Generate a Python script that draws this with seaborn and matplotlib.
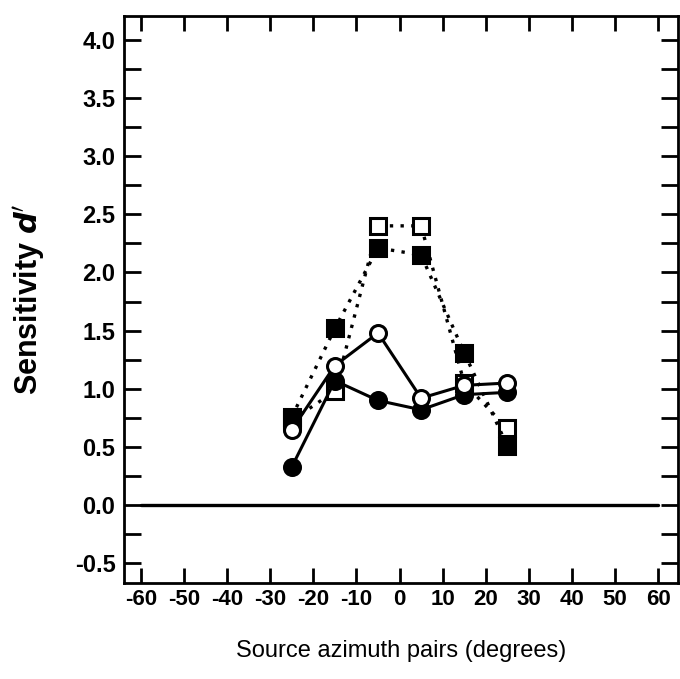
import numpy as np
import pandas as pd
import seaborn as sns
import matplotlib
matplotlib.use("Agg")
import matplotlib.pyplot as plt
from matplotlib.ticker import MultipleLocator

# values
azimuth = [-25, -15, -5, 5, 15, 25]
open_squares = [0.73, 0.98, 2.40, 2.40, 1.05, 0.66]
filled_squares = [0.76, 1.52, 2.21, 2.15, 1.31, 0.51]
open_circles = [0.65, 1.20, 1.48, 0.92, 1.03, 1.05]
filled_circles = [0.33, 1.07, 0.90, 0.82, 0.95, 0.97]

zero_x = [-60, 60]
zero_y = [0.0, 0.0]

x_ticks = list(range(-60, 61, 10))
y_ticks = [-0.5, 0.0, 0.5, 1.0, 1.5, 2.0, 2.5, 3.0, 3.5, 4.0]

sns.set_style("ticks")
plt.rcParams["font.family"] = ["Liberation Sans", "DejaVu Sans"]
plt.rcParams["axes.unicode_minus"] = False
plt.rcParams["text.color"] = "black"
plt.rcParams["axes.labelcolor"] = "black"
plt.rcParams["xtick.color"] = "black"
plt.rcParams["ytick.color"] = "black"

fig = plt.figure(figsize=(6.8, 6.79), dpi=100)
ax = fig.add_axes([0.182, 0.141, 0.815, 0.835])

df = pd.DataFrame({"x": azimuth, "osq": open_squares, "fsq": filled_squares,
                   "oci": open_circles, "fci": filled_circles})

# zero reference line
ax.plot(zero_x, zero_y, color="black", lw=2.4, zorder=1)

common = dict(color="black", ms=11.5, mec="black", mew=2.2, ax=ax)
sns.lineplot(data=df, x="x", y="osq", marker="s", mfc="white", lw=2.4,
             linestyle=(0, (1, 2.2)), zorder=3, **common)
sns.lineplot(data=df, x="x", y="fsq", marker="s", mfc="black", lw=2.4,
             linestyle=(0, (1, 2.2)), zorder=3, **common)
sns.lineplot(data=df, x="x", y="fci", marker="o", mfc="black", lw=2.2,
             linestyle="-", zorder=4, **common)
sns.lineplot(data=df, x="x", y="oci", marker="o", mfc="white", lw=2.2,
             linestyle="-", zorder=5, **common)

ax.set_xlim(-64, 64.6)
ax.set_ylim(-0.67, 4.2)
ax.set_xticks(x_ticks)
ax.set_xticklabels([str(t) for t in x_ticks])
ax.set_yticks(y_ticks)
ax.set_yticklabels([f"{t:.1f}" for t in y_ticks])
ax.yaxis.set_minor_locator(MultipleLocator(0.25))

for side in ["left", "right", "top", "bottom"]:
    ax.spines[side].set_visible(True)
    ax.spines[side].set_linewidth(2.0)
    ax.spines[side].set_color("black")

ax.tick_params(axis="both", which="both", direction="in", width=2.0,
               color="black", labelcolor="black", top=True, right=True)
ax.tick_params(axis="y", which="both", length=12)
ax.tick_params(axis="x", which="major", length=11)
ax.tick_params(axis="y", which="major", pad=6)
ax.tick_params(axis="x", which="major", pad=4)

for lab in ax.get_yticklabels():
    lab.set_fontsize(17)
    lab.set_fontweight("bold")
for lab in ax.get_xticklabels():
    lab.set_fontsize(16)
    lab.set_fontweight("bold")

ax.set_ylabel(r"Sensitivity $\mathbfit{d}'$", fontsize=22, fontweight="bold",
              labelpad=20, color="black")
ax.set_xlabel("Source azimuth pairs (degrees)", fontsize=17, labelpad=22,
              color="black")

fig.savefig("out.png", dpi=100)
